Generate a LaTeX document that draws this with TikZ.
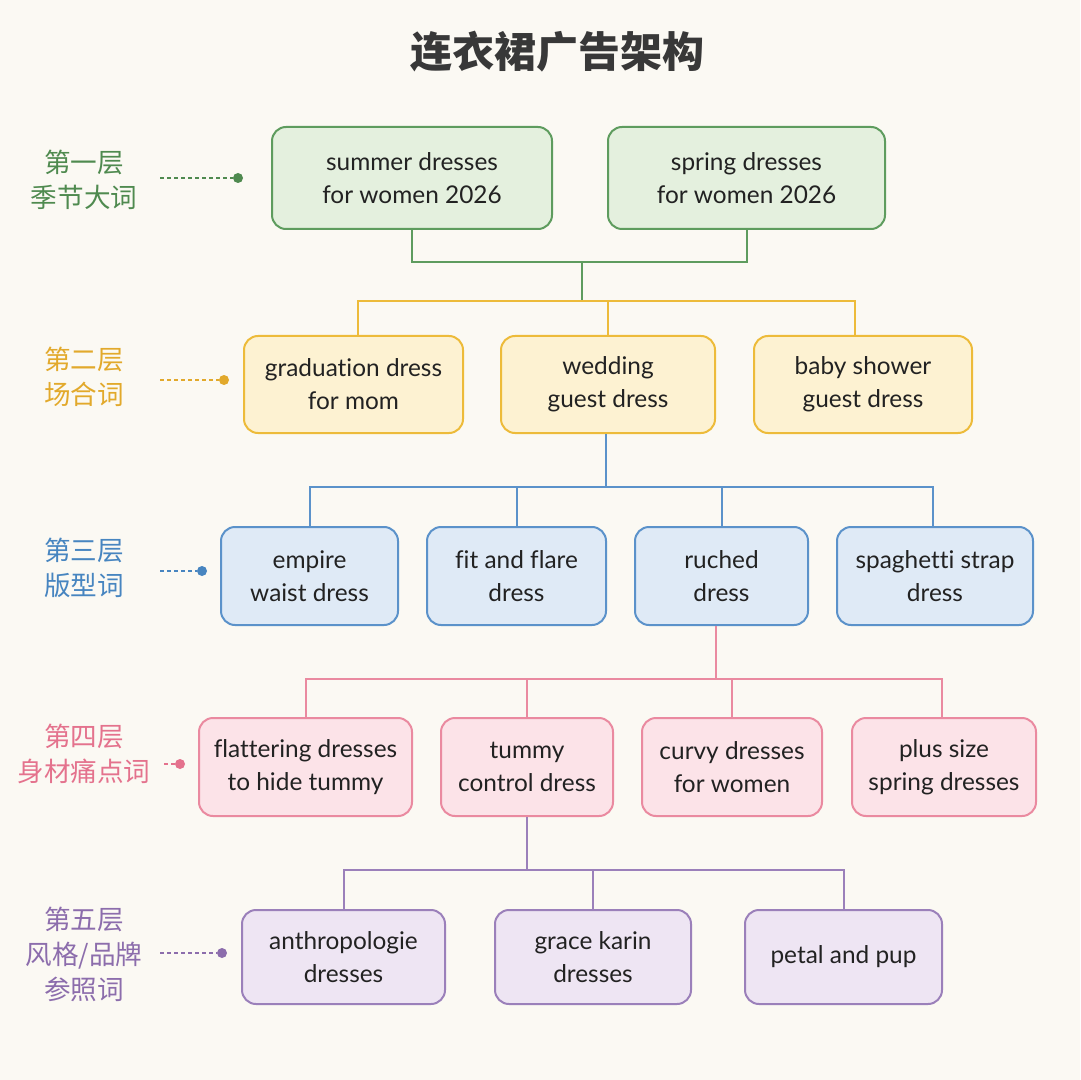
\documentclass[tikz,border=0pt]{standalone}
\usepackage{fontspec}
\setmainfont{Lato}[Ligatures=NoCommon]
\newfontfamily\cjk{Noto Sans CJK SC}
\usetikzlibrary{positioning}

\definecolor{bg}{HTML}{FBF9F3}
\definecolor{ink}{HTML}{222222}
\definecolor{gline}{HTML}{5E9C5E}
\definecolor{gfill}{HTML}{E4F0DE}
\definecolor{gtext}{HTML}{4F8A4F}
\definecolor{yline}{HTML}{EDBB3A}
\definecolor{yfill}{HTML}{FDF2D2}
\definecolor{ytext}{HTML}{E2A92B}
\definecolor{bline}{HTML}{5B92CA}
\definecolor{bfill}{HTML}{DFEAF6}
\definecolor{btext}{HTML}{4785C0}
\definecolor{pline}{HTML}{EA8AA0}
\definecolor{pfill}{HTML}{FCE3E8}
\definecolor{ptext}{HTML}{E4728D}
\definecolor{uline}{HTML}{9B80BA}
\definecolor{ufill}{HTML}{EEE5F3}
\definecolor{utext}{HTML}{8C6DAC}

\tikzset{
  kw/.style={draw=#1line, fill=#1fill, line width=1pt, rounded corners=7pt,
    align=center, text=ink, font=\fontsize{12.2}{16.5}\selectfont, inner sep=0pt},
  sz/.style 2 args={minimum width=#1*0.5pt, minimum height=#2*0.5pt},
  link/.style={draw=#1line, line width=1pt},
  layer/.style={text=#1text, align=center, font=\cjk\fontsize{13.3}{17.5}\selectfont},
  dots/.style={draw=#1text, line width=0.7pt, dash pattern=on 2pt off 1.5pt},
  dot/.style={circle, fill=#1text, inner sep=0pt, minimum size=5pt}
}

\begin{document}
\begin{tikzpicture}[x=0.5pt, y=-0.5pt]
\useasboundingbox[fill=bg] (0,0) rectangle (1080,1080);

% title
\node[font=\cjk\bfseries\fontsize{21}{24}\selectfont, text=ink!90] (title) at (557,52) {连衣裙广告架构};

% layer labels
\node[layer=g] (lab1) at (84,180) {第一层\\季节大词};
\node[layer=y] (lab2) at (84,377) {第二层\\场合词};
\node[layer=b] (lab3) at (84,568) {第三层\\版型词};
\node[layer=p] (lab4) at (84,754) {第四层\\身材痛点词};
\node[layer=u] (lab5) at (84,954) {第五层\\风格/品牌\\参照词};

\coordinate (s1) at (160,178);
\coordinate (s2) at (160,380);
\coordinate (s3) at (160,571);
\coordinate (s4) at (164,764);
\coordinate (s5) at (160,953);
\node[dot=g] (d1) at (238,178) {};
\node[dot=y] (d2) at (224,380) {};
\node[dot=b] (d3) at (202,571) {};
\node[dot=p] (d4) at (180,764) {};
\node[dot=u] (d5) at (222,953) {};
\draw[dots=g] (s1) -- (d1);
\draw[dots=y] (s2) -- (d2);
\draw[dots=b] (s3) -- (d3);
\draw[dots=p] (s4) -- (d4);
\draw[dots=u] (s5) -- (d5);

% layer 1
\node[kw=g, sz={280}{102}] (summer) at (412,178) {summer dresses\\for women 2026};
\node[kw=g, sz={277}{102}] (spring) at (746.5,178) {spring dresses\\for women 2026};

% layer 2
\node[kw=y, sz={219}{97}] (grad) at (353.5,384.5) {graduation dress\\for mom};
\node[kw=y, sz={214}{97}] (wed) at (608,384.5) {wedding\\guest dress};
\node[kw=y, sz={218}{97}] (baby) at (863,384.5) {baby shower\\guest dress};

% layer 3
\node[kw=b, sz={177}{98}] (empire) at (309.5,576) {empire\\waist dress};
\node[kw=b, sz={179}{98}] (fit) at (516.5,576) {fit and flare\\dress};
\node[kw=b, sz={173}{98}] (ruched) at (721.5,576) {ruched\\dress};
\node[kw=b, sz={196}{98}] (spag) at (935,576) {spaghetti strap\\dress};

% layer 4
\node[kw=p, sz={213}{98}] (flat) at (305.5,767) {flattering dresses\\to hide tummy};
\node[kw=p, sz={172}{98}] (tummy) at (527,767) {tummy\\control dress};
\node[kw=p, sz={180}{98}] (curvy) at (732,767) {curvy dresses\\for women};
\node[kw=p, sz={184}{98}] (plus) at (944,767) {plus size\\spring dresses};

% layer 5
\node[kw=u, sz={203}{94}] (anthro) at (343.5,957) {anthropologie\\dresses};
\node[kw=u, sz={196}{94}] (grace) at (593,957) {grace karin\\dresses};
\node[kw=u, sz={197}{94}] (petal) at (843.5,957) {petal and pup};

% connectors
\coordinate (g1) at (582,262);
\coordinate (y1) at (582,301);
\draw[link=g] (summer.south) |- (g1) -| (spring.south);
\draw[link=g] (g1) -- (y1);
\draw[link=y] ([xshift=2pt]grad.north) |- (y1) -| ([xshift=-4pt]baby.north);
\draw[link=y] (y1 -| wed.north) -- (wed.north);

\coordinate (b1) at (606,487);
\draw[link=b] (b1 |- wed.south) -- (b1);
\draw[link=b] (empire.north) |- (b1) -| ([xshift=-1pt]spag.north);
\draw[link=b] (b1 -| fit.north) -- (fit.north);
\draw[link=b] (b1 -| ruched.north) -- (ruched.north);

\coordinate (p1) at (716,679);
\draw[link=p] (p1 |- ruched.south) -- (p1);
\draw[link=p] (flat.north) |- (p1) -| ([xshift=-1pt]plus.north);
\draw[link=p] (p1 -| tummy.north) -- (tummy.north);
\draw[link=p] (p1 -| curvy.north) -- (curvy.north);

\coordinate (u1) at (527,870);
\draw[link=u] (tummy.south) -- (u1);
\draw[link=u] (anthro.north) |- (u1) -| (petal.north);
\draw[link=u] (u1 -| grace.north) -- (grace.north);
\end{tikzpicture}
\end{document}
